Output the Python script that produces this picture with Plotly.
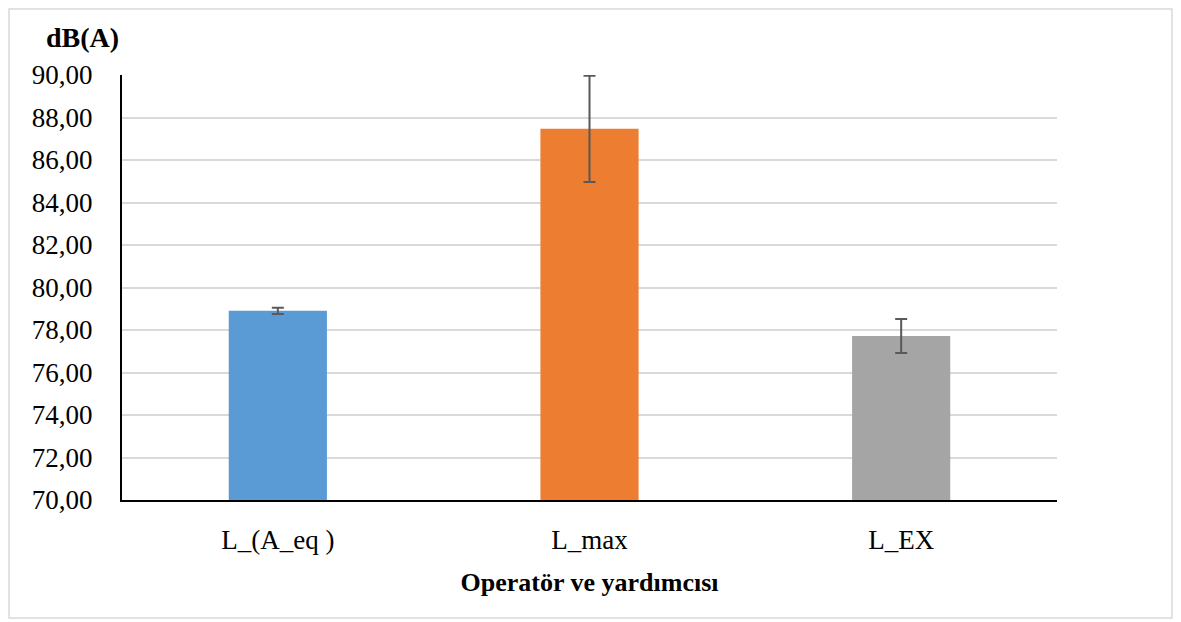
import plotly.graph_objects as go

categories = ["L_(A_eq )", "L_max", "L_EX"]
values = [78.90, 87.47, 77.72]
errors = [0.15, 2.50, 0.80]
colors = ["#5b9bd5", "#ed7d31", "#a5a5a5"]
y_ticks = [70, 72, 74, 76, 78, 80, 82, 84, 86, 88, 90]
y_tick_labels = ["70,00", "72,00", "74,00", "76,00", "78,00", "80,00",
                 "82,00", "84,00", "86,00", "88,00", "90,00"]

# page has an 8px body margin; figure coords = screen coords - 8
OFF = 8
W, H = 1173, 614
L, R, T, B = 122 - OFF, 1057 - OFF, 75 - OFF, 500 - OFF
PW, PH = R - L, B - T

fig = go.Figure()
fig.add_trace(go.Bar(
    x=categories,
    y=values,
    base=0,
    marker=dict(color=colors, line=dict(width=0)),
    width=0.315,
    error_y=dict(type="data", array=errors, visible=True,
                 color="#595959", thickness=2, width=6),
))

fig.update_layout(
    width=W, height=H,
    margin=dict(l=L, r=W - R, t=T, b=H - B, pad=0),
    paper_bgcolor="white",
    plot_bgcolor="white",
    showlegend=False,
    font=dict(family="Liberation Serif, Times New Roman, serif", color="black"),
    xaxis=dict(
        showline=True, linecolor="black", linewidth=2,
        ticks="", tickfont=dict(size=27, color="black"),
        ticklabelstandoff=15,
        title=dict(text="<b>Operatör ve yardımcısı</b>",
                   font=dict(size=26, color="black"), standoff=18),
    ),
    yaxis=dict(
        range=[70, 90],
        tickvals=y_ticks, ticktext=y_tick_labels,
        showgrid=True, gridcolor="#d9d9d9", gridwidth=1.5,
        showline=True, linecolor="black", linewidth=2,
        zeroline=False,
        ticks="", tickfont=dict(size=27, color="black"),
        ticklabelstandoff=22,
    ),
    annotations=[dict(
        text="<b>dB(A)</b>", xref="paper", yref="paper",
        x=(82 - 8 - L) / PW, y=(B - (37 - OFF)) / PH,
        xanchor="center", yanchor="middle", showarrow=False,
        font=dict(size=28, color="black"),
    )],
    shapes=[dict(
        type="rect", xref="paper", yref="paper",
        x0=(1 - L) / PW, x1=(1164 - L) / PW,
        y0=(B - 610) / PH, y1=(B - 1) / PH,
        line=dict(color="#d9d9d9", width=1.5), fillcolor="rgba(0,0,0,0)",
        layer="below",
    )],
)

fig.write_html("out.html")
